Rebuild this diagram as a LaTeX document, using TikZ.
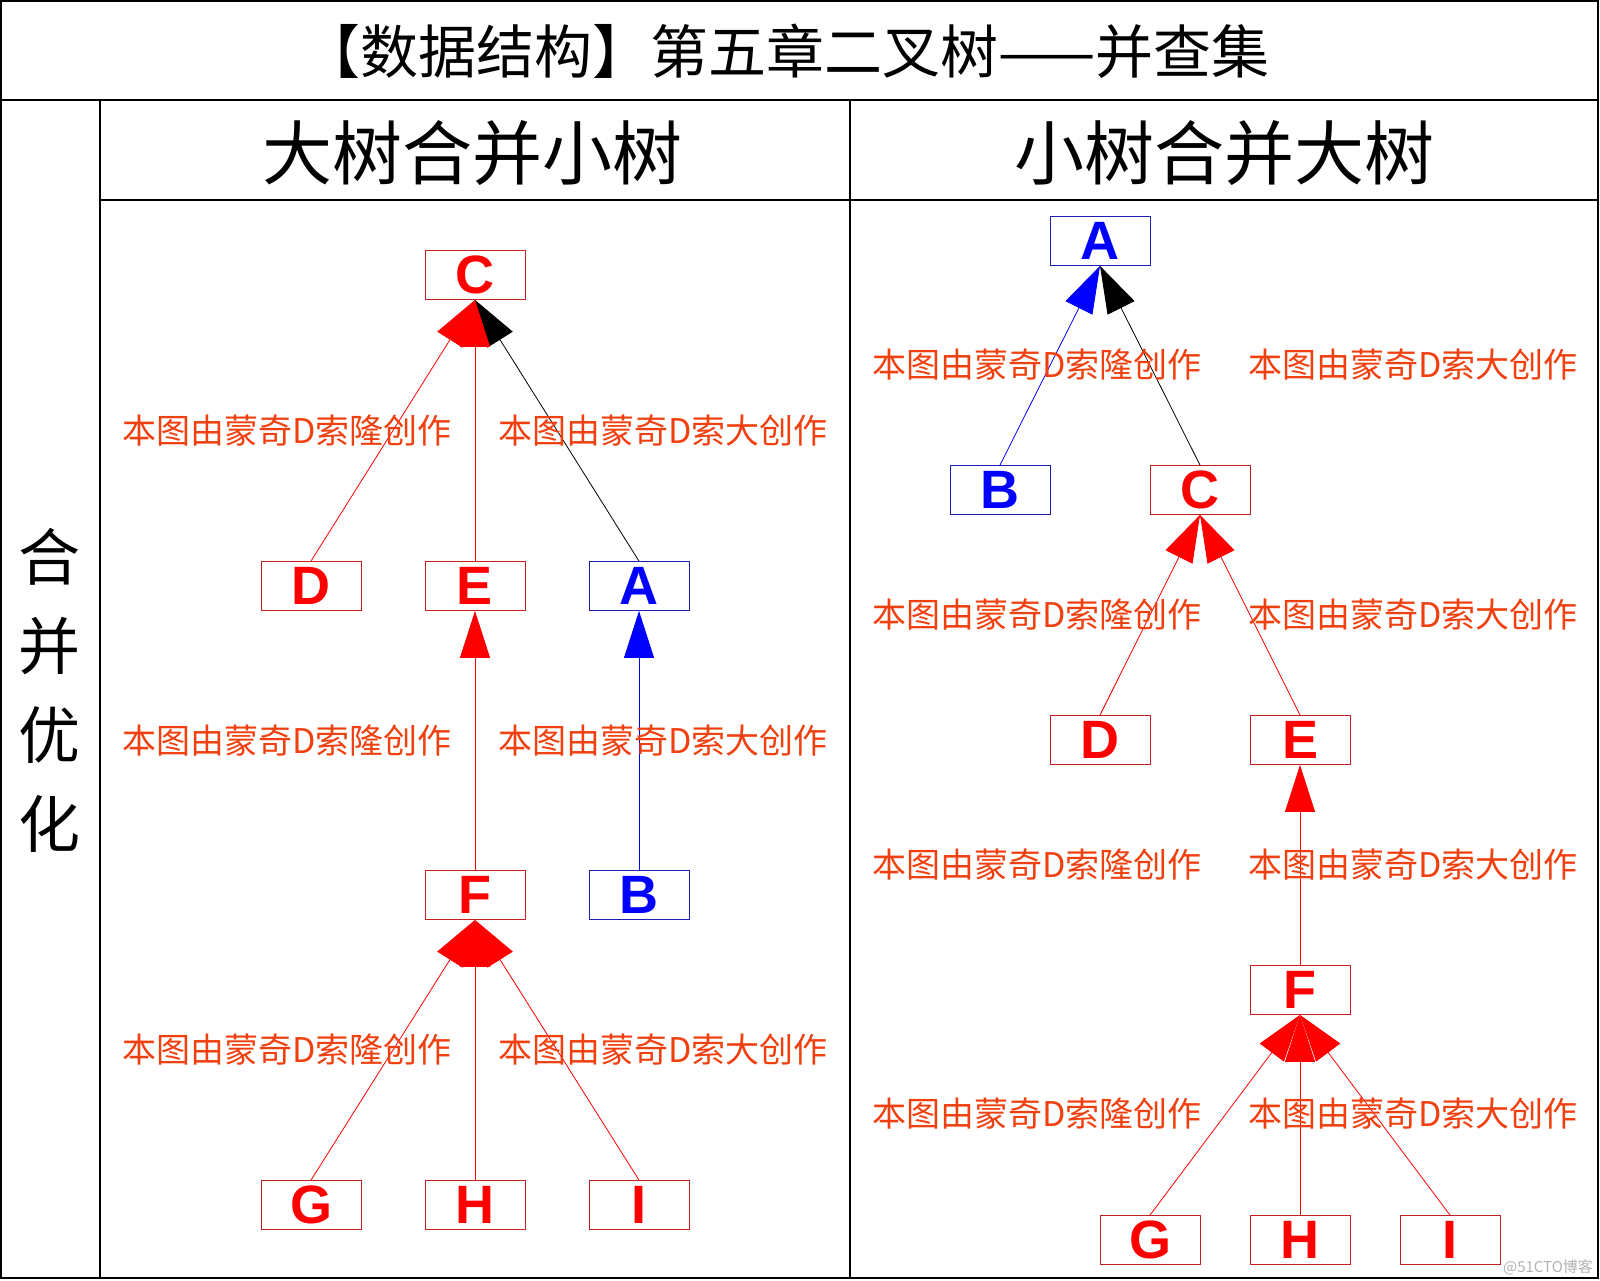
\documentclass[tikz,border=0pt]{standalone}
\usepackage{fontspec}
\setmainfont{Liberation Sans}
\newfontfamily\cjk{Noto Sans CJK SC}
\usepackage{xcolor}
\definecolor{NodeRed}{HTML}{FF0000}
\definecolor{NodeBlue}{HTML}{0000FF}
\definecolor{BorderRed}{HTML}{C81E1E}
\definecolor{BorderBlue}{HTML}{1E1EB4}
\definecolor{NoteOrange}{HTML}{F04010}
\usetikzlibrary{arrows.meta, positioning}
\tikzset{
  % Box styles
  redbox/.style={rectangle, draw=BorderRed, line width=0.8pt, minimum width=100pt, minimum height=49pt, inner sep=0pt, text=NodeRed, font=\fontsize{54}{54}\selectfont\bfseries},
  bluebox/.style={redbox, draw=BorderBlue, text=NodeBlue},
  % Text styles
  titletext/.style={font=\cjk\fontsize{58}{58}\selectfont, inner sep=0pt},
  headtext/.style={font=\cjk\fontsize{70}{70}\selectfont, inner sep=0pt},
  sidetext/.style={font=\cjk\fontsize{62}{89}\selectfont, align=center, inner sep=0pt},
  notetext/.style={font=\cjk\fontsize{34}{34}\selectfont, text=NoteOrange, inner sep=0pt},
  % Arrow styles
  redarrow/.style={-{Triangle[length=47pt, width=30pt]}, line width=0.8pt, NodeRed},
  bluearrow/.style={redarrow, NodeBlue},
  blackarrow/.style={redarrow, black},
  % Frame
  frameline/.style={line width=1.2pt, black}
}

\begin{document}
\begin{tikzpicture}[x=1pt, y=-1pt]
  \useasboundingbox (0,0) rectangle (1600,1280);

  % Table frame
  \draw[frameline] (1,1) rectangle (1598,1278);
  \draw[frameline] (1,100) -- (1598,100);
  \draw[frameline] (100,100) -- (100,1278);
  \draw[frameline] (100,200) -- (1598,200);
  \draw[frameline] (850,100) -- (850,1278);

  % Headings
  \node[titletext] (title) at (786,51) {【数据结构】第五章二叉树——并查集};
  \node[headtext] (headL) at (472,153) {大树合并小树};
  \node[headtext] (headR) at (1224,153) {小树合并大树};
  \node[sidetext] (side) at (49,690) {合\\并\\优\\化};

  % Left tree: big tree merged under small tree
  \node[redbox] (lC) at (475,275) {C};
  \node[redbox] (lD) at (311,586) {D};
  \node[redbox] (lE) at (475,586) {E};
  \node[bluebox] (lA) at (639,586) {A};
  \node[redbox] (lF) at (475,895) {F};
  \node[bluebox] (lB) at (639,895) {B};
  \node[redbox] (lG) at (311,1205) {G};
  \node[redbox] (lH) at (475,1205) {H};
  \node[redbox] (lI) at (639,1205) {I};

  \draw[blackarrow] (lA.north) -- (lC.south);
  \draw[redarrow] (lD.north) -- (lC.south);
  \draw[redarrow] (lE.north) -- (lC.south);
  \draw[redarrow] (lF.north) -- (lE.south);
  \draw[bluearrow] (lB.north) -- (lA.south);
  \draw[redarrow] (lG.north) -- (lF.south);
  \draw[redarrow] (lI.north) -- (lF.south);
  \draw[redarrow] (lH.north) -- (lF.south);

  \node[notetext] (nL1) at (287,431) {本图由蒙奇D索隆创作};
  \node[notetext] (nR1) at (663,431) {本图由蒙奇D索大创作};
  \node[notetext] (nL2) at (287,741) {本图由蒙奇D索隆创作};
  \node[notetext] (nR2) at (663,741) {本图由蒙奇D索大创作};
  \node[notetext] (nL3) at (287,1050) {本图由蒙奇D索隆创作};
  \node[notetext] (nR3) at (663,1050) {本图由蒙奇D索大创作};

  % Right tree: small tree merged under big tree
  \node[bluebox] (rA) at (1100,241) {A};
  \node[bluebox] (rB) at (1000,490) {B};
  \node[redbox] (rC) at (1200,490) {C};
  \node[redbox] (rD) at (1100,740) {D};
  \node[redbox] (rE) at (1300,740) {E};
  \node[redbox] (rF) at (1300,990) {F};
  \node[redbox] (rG) at (1150,1240) {G};
  \node[redbox] (rH) at (1300,1240) {H};
  \node[redbox] (rI) at (1450,1240) {I};

  \draw[bluearrow] (rB.north) -- (rA.south);
  \draw[blackarrow] (rC.north) -- (rA.south);
  \draw[redarrow] (rD.north) -- (rC.south);
  \draw[redarrow] (rE.north) -- (rC.south);
  \draw[redarrow] (rF.north) -- (rE.south);
  \draw[redarrow] (rG.north) -- (rF.south);
  \draw[redarrow] (rI.north) -- (rF.south);
  \draw[redarrow] (rH.north) -- (rF.south);

  \node[notetext] (nL4) at (1037,365) {本图由蒙奇D索隆创作};
  \node[notetext] (nR4) at (1413,365) {本图由蒙奇D索大创作};
  \node[notetext] (nL5) at (1037,615) {本图由蒙奇D索隆创作};
  \node[notetext] (nR5) at (1413,615) {本图由蒙奇D索大创作};
  \node[notetext] (nL6) at (1037,865) {本图由蒙奇D索隆创作};
  \node[notetext] (nR6) at (1413,865) {本图由蒙奇D索大创作};
  \node[notetext] (nL7) at (1037,1114) {本图由蒙奇D索隆创作};
  \node[notetext] (nR7) at (1413,1114) {本图由蒙奇D索大创作};

  \node[font=\cjk\fontsize{15}{15}\selectfont, text=black!30, inner sep=0pt] (mark) at (1548,1267) {@51CTO博客};
\end{tikzpicture}
\end{document}
